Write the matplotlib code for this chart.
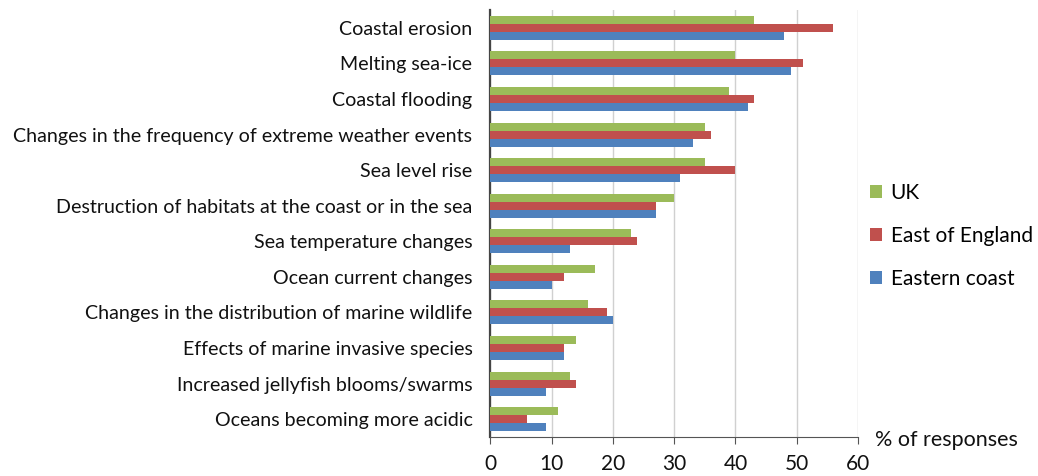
import numpy as np
import matplotlib.pyplot as plt

plt.rcParams['font.family'] = ['Lato', 'DejaVu Sans']

categories = [
    "Coastal erosion",
    "Melting sea-ice",
    "Coastal flooding",
    "Changes in the frequency of extreme weather events",
    "Sea level rise",
    "Destruction of habitats at the coast or in the sea",
    "Sea temperature changes",
    "Ocean current changes",
    "Changes in the distribution of marine wildlife",
    "Effects of marine invasive species",
    "Increased jellyfish blooms/swarms",
    "Oceans becoming more acidic",
]
uk = [43, 40, 39, 35, 35, 30, 23, 17, 16, 14, 13, 11]
east_england = [56, 51, 43, 36, 40, 27, 24, 12, 19, 12, 14, 6]
eastern_coast = [48, 49, 42, 33, 31, 27, 13, 10, 20, 12, 9, 9]

series = [("UK", uk, "#9BBB59"),
          ("East of England", east_england, "#C0504D"),
          ("Eastern coast", eastern_coast, "#4F81BD")]

fig = plt.figure(figsize=(10.38, 4.76), dpi=100)
ax = fig.add_axes([0.4725, 0.082, 0.354, 0.897])

y = np.arange(len(categories))
h = 0.225
for i, (name, vals, col) in enumerate(series):
    ax.barh(y + (i - 1) * h, vals, height=h, color=col, label=name, zorder=3)

ax.set_ylim(len(categories) - 0.5, -0.5)
ax.set_xlim(0, 60)
ax.set_xticks(range(0, 61, 10))
ax.set_yticks(y)
ax.set_yticklabels(categories, fontsize=14.1, color='#111111')
ax.tick_params(axis='y', length=0, pad=13)
ax.tick_params(axis='x', labelsize=15, length=5, color='#555555', pad=7,
               labelcolor='#111111')
ax.grid(axis='x', color='#d0d0d0', linewidth=1, zorder=0)
for s in ['top', 'right']:
    ax.spines[s].set_visible(False)
ax.spines['left'].set_color('#444444')
ax.spines['bottom'].set_color('#555555')
ax.spines['left'].set_linewidth(1.6)

leg = fig.legend(loc='center left', bbox_to_anchor=(0.82, 0.505), frameon=False,
                 fontsize=15, handlelength=0.6, handleheight=0.6,
                 labelspacing=1.1, handletextpad=0.4)

fig.text(0.843, 0.075, "% of responses", fontsize=15.5, va='center', ha='left',
         color='#111111')

fig.savefig("out.png", dpi=100)
